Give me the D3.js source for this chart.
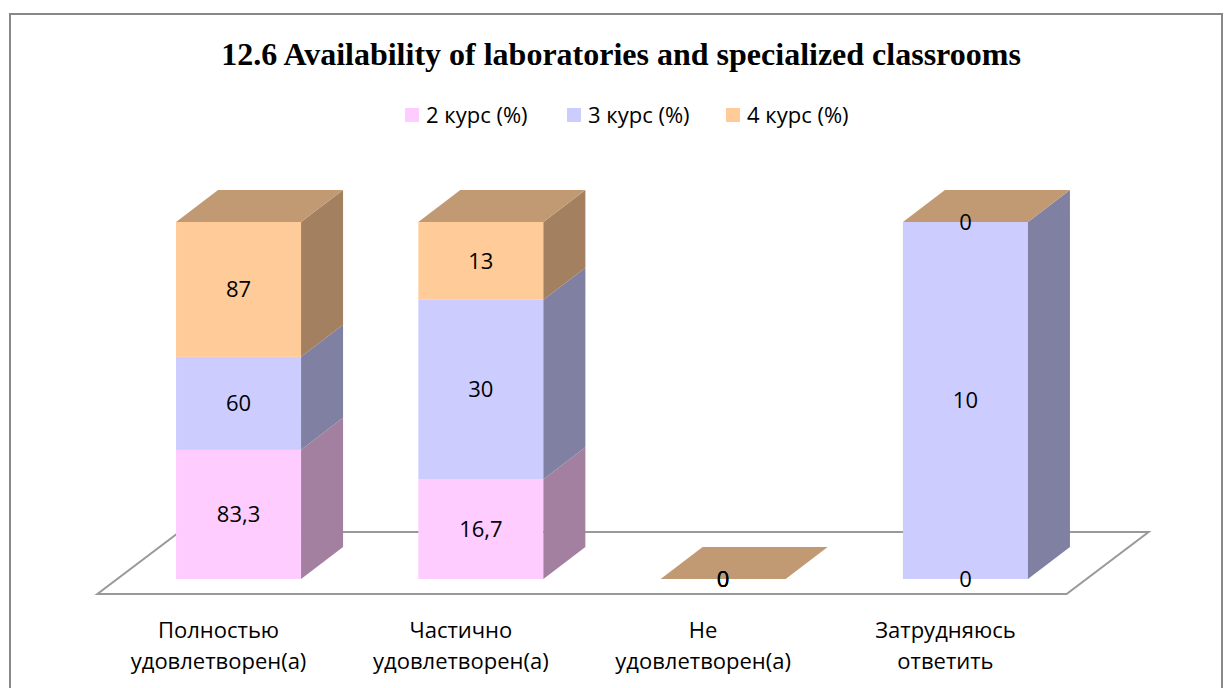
<!DOCTYPE html>
<html>
<head>
<meta charset="utf-8">
<script src="https://cdn.jsdelivr.net/npm/d3@7"></script>
<style>
  body { margin: 0; background: #fff; }
  text { font-family: "Open Sans", "Noto Sans", sans-serif; fill: #000; }
</style>
</head>
<body>
<div class="chart"></div>
<script>
// Data
var categories = ["Полностью удовлетворен(а)", "Частично удовлетворен(а)", "Не удовлетворен(а)", "Затрудняюсь ответить"];
var seriesNames = ["2 курс (%)", "3 курс (%)", "4 курс (%)"];
var course2 = [83.3, 16.7, 0, 0];
var course3 = [60, 30, 0, 10];
var course4 = [87, 13, 0, 0];

var frontColors = ["#ffccff", "#ccccff", "#ffcc99"];
var sideColors = ["#a3809f", "#8080a3", "#a3805f"];
var topColor = "#c19a73";

var svgWidth = 1230;
var svgHeight = 688;

// 3D offsets for the columns and the floor
var depthX = 42, depthY = 32;
var floorX = 20, floorY = 15;

var svg = d3.select(".chart")
  .append("svg")
  .attr("width", svgWidth)
  .attr("height", svgHeight);

// chart border
svg.append("rect")
  .attr("x", 10).attr("y", 14)
  .attr("width", 1212).attr("height", 700)
  .attr("fill", "#fff")
  .attr("stroke", "#888")
  .attr("stroke-width", 2);

svg.append("text")
  .attr("x", 621)
  .attr("y", 65)
  .attr("text-anchor", "middle")
  .style("font-family", "'Liberation Serif', 'Times New Roman', serif")
  .style("font-weight", "bold")
  .style("font-size", "32px")
  .text("12.6 Availability of laboratories and specialized classrooms");

// legend
var legendX = [405, 567, 726];
var legend = svg.selectAll(".legend")
  .data(seriesNames)
  .enter()
  .append("g")
  .attr("class", "legend")
  .attr("transform", function(d, i) { return "translate(" + legendX[i] + ",108)"; });

legend.append("rect")
  .attr("width", 14).attr("height", 14)
  .attr("fill", function(d, i) { return frontColors[i]; });

legend.append("text")
  .attr("x", 21)
  .attr("y", 15)
  .style("font-size", "22px")
  .text(function(d) { return d; });

// build rows for the stack
var rows = categories.map(function(c, i) {
  var r = { category: c };
  r[seriesNames[0]] = course2[i];
  r[seriesNames[1]] = course3[i];
  r[seriesNames[2]] = course4[i];
  return r;
});

var stacked = d3.stack()
  .keys(seriesNames)
  .offset(d3.stackOffsetExpand)(rows);

var xScale = d3.scaleBand()
  .domain(categories)
  .range([117.4, 1086.6])
  .paddingInner(0.484)
  .paddingOuter(0.242);

var yScale = d3.scaleLinear().domain([0, 1]).range([579, 222]);

var bw = xScale.bandwidth();
var y0 = yScale(0);

// floor
var fx0 = xScale.range()[0] - floorX, fx1 = xScale.range()[1] - floorX;
svg.append("path")
  .attr("d", "M" + fx0 + "," + (y0 + floorY) +
    "L" + fx1 + "," + (y0 + floorY) +
    "L" + (fx1 + depthX + 2 * floorX) + "," + (y0 - depthY - floorY) +
    "L" + (fx0 + depthX + 2 * floorX) + "," + (y0 - depthY - floorY) + "Z")
  .attr("fill", "#fff")
  .attr("stroke", "#999")
  .attr("stroke-width", 2);

function poly(pts) {
  return "M" + pts.map(function(p) { return p[0] + "," + p[1]; }).join("L") + "Z";
}

var chart = svg.append("g");

categories.forEach(function(c, ci) {
  var x = xScale(c);
  var g = chart.append("g");
  stacked.forEach(function(s, si) {
    var yb = yScale(s[ci][0]), yt = yScale(s[ci][1]);
    if (yb - yt > 0) {
      g.append("rect")
        .attr("x", x).attr("y", yt)
        .attr("width", bw).attr("height", yb - yt)
        .attr("fill", frontColors[si]);
      g.append("path")
        .attr("d", poly([[x + bw, yb], [x + bw, yt], [x + bw + depthX, yt - depthY], [x + bw + depthX, yb - depthY]]))
        .attr("fill", sideColors[si]);
    }
  });
  var top = yScale(stacked[stacked.length - 1][ci][1]);
  g.append("path")
    .attr("d", poly([[x, top], [x + bw, top], [x + bw + depthX, top - depthY], [x + depthX, top - depthY]]))
    .attr("fill", topColor);
});

// value labels
var fmt = function(v) { return String(v).replace(".", ","); };
stacked.forEach(function(s, si) {
  chart.selectAll(".lbl" + si)
    .data(s)
    .enter()
    .append("text")
    .attr("x", function(d) { return xScale(d.data.category) + bw / 2; })
    .attr("y", function(d) { return (yScale(d[0]) + yScale(d[1])) / 2; })
    .attr("dy", "0.35em")
    .attr("text-anchor", "middle")
    .style("font-size", "22px")
    .text(function(d) { return fmt(d.data[seriesNames[si]]); });
});

// category labels
var catLabels = svg.selectAll(".cat")
  .data(categories)
  .enter()
  .append("text")
  .attr("class", "cat")
  .attr("text-anchor", "middle")
  .attr("x", function(d) { return xScale(d) + bw / 2 - floorX; })
  .attr("y", 638)
  .style("font-size", "22px");

catLabels.selectAll("tspan")
  .data(function(d) { return d.split(" "); })
  .enter()
  .append("tspan")
  .attr("x", function() { return d3.select(this.parentNode).attr("x"); })
  .attr("dy", function(d, i) { return i ? 31 : 0; })
  .text(function(d) { return d; });
</script>
</body>
</html>
